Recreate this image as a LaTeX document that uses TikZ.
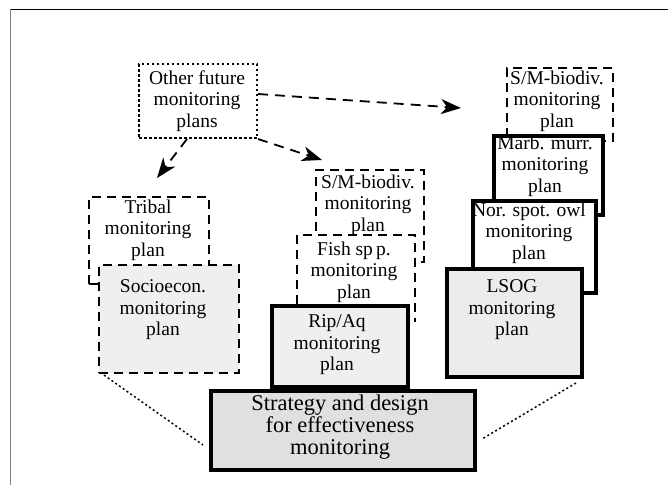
\documentclass[tikz,border=0pt]{standalone}
\usepackage{fontspec}
\setmainfont{Liberation Serif}
\usetikzlibrary{arrows.meta}
\definecolor{fillA}{HTML}{EFEFEF}
\definecolor{fillB}{HTML}{ECECEC}
\definecolor{fillS}{HTML}{E0E0E2}
\begin{document}
\begin{tikzpicture}[x=1pt,y=-1pt,
  txt/.style={align=center, font=\fontsize{19.5}{21.5}\selectfont, inner sep=0pt},
  bigtxt/.style={align=center, font=\fontsize{22.5}{22}\selectfont, inner sep=0pt},
  dashbox/.style={draw, line width=2.1pt, dash pattern=on 9pt off 6pt, anchor=north west, inner sep=0pt},
  thickbox/.style={draw, line width=4pt, anchor=north west, inner sep=0pt},
  dotbox/.style={draw, line width=2pt, dash pattern=on 2.5pt off 2.5pt, anchor=north west, inner sep=0pt},
  conn/.style={line width=1.8pt, dash pattern=on 10pt off 7pt, -{Stealth[length=20pt,width=15pt,inset=6pt]}},
  dotline/.style={line width=1.5pt, dash pattern=on 2pt off 2.6pt}
]
\useasboundingbox (0,0) rectangle (668,485);
% frame
\coordinate (fa) at (10,485); \coordinate (fb) at (10,9); \coordinate (fc) at (668,9);
\draw[line width=0.8pt] (fb) -- (fc);
\draw[gray, line width=1pt] (fb) -- (fa);

% other
\node[dotbox, minimum width=118pt, minimum height=74pt] (other) at (138,63) {};
\node[txt] (othert) at (197,101) {Other future\\monitoring\\plans};

% left column
\node[dashbox, minimum width=120pt, minimum height=87pt] (tribal) at (88,196) {};
\node[txt] (tribalt) at (148,230) {Tribal\\monitoring\\plan};
\node[dashbox, fill=fillA, minimum width=140pt, minimum height=108pt] (socio) at (98,264) {};
\node[txt] (sociot) at (163,310) {Socioecon.\\monitoring\\plan};

% middle column
\node[dashbox, fill=white, minimum width=108pt, minimum height=92pt] (smmid) at (315,169) {};
\node[txt] (smmidt) at (368,205) {S/M-biodiv.\\monitoring\\plan};
\node[fill=white, anchor=north west, inner sep=0pt, minimum width=118pt, minimum height=87pt] (fish) at (297,235) {};
\node[thickbox, fill=fillA, minimum width=136pt, minimum height=81pt] (rip) at (270,304) {};
\draw[line width=2.1pt, dash pattern=on 9pt off 6pt] (fish.west |- rip.north) -- (fish.north west) -- (fish.north east) -- (fish.south east);
\node[txt] (fisht) at (354,272) {Fish sp\,p.\\monitoring\\plan};
\node[txt] (ript) at (337,345) {Rip/Aq\\monitoring\\plan};
\node[thickbox, fill=fillS, minimum width=264pt, minimum height=79pt] (strat) at (209,389) {};
\node[bigtxt] (stratt) at (340,427) {Strategy and design\\for effectiveness\\monitoring};

% right column
\node[dashbox, fill=white, minimum width=106pt, minimum height=73pt] (smr) at (506,67) {};
\node[txt] (smrt) at (557,101) {S/M-biodiv.\\monitoring\\plan};
\node[thickbox, fill=white, minimum width=109pt, minimum height=79pt] (marb) at (492,134) {};
\node[txt] (marbt) at (545,166) {Marb. murr.\\monitoring\\plan};
\node[thickbox, fill=white, minimum width=123pt, minimum height=92pt] (nor) at (471,199) {};
\node[txt] (nort) at (529,233) {Nor. spot. owl\\monitoring\\plan};
\node[thickbox, fill=fillB, minimum width=135pt, minimum height=108pt] (lsog) at (445,267) {};
\node[txt] (lsogt) at (512,310) {LSOG\\monitoring\\plan};

% arrows
\coordinate (a1) at (461,108);
\coordinate (a2) at (322,160);
\coordinate (a3) at (157,178);
\draw[conn] ([yshift=7pt]other.east) -- (a1);
\draw[conn] (other.south east) -- (a2);
\draw[conn] ([xshift=-11pt]other.south) -- (a3);

% dotted lines
\coordinate (d1) at (203,445);
\coordinate (d2) at (482,439);
\draw[dotline] ([xshift=6pt,yshift=-1pt]socio.south west) -- (d1);
\draw[dotline] ([xshift=-8pt,yshift=-4pt]lsog.south east) -- (d2);
\end{tikzpicture}
\end{document}
